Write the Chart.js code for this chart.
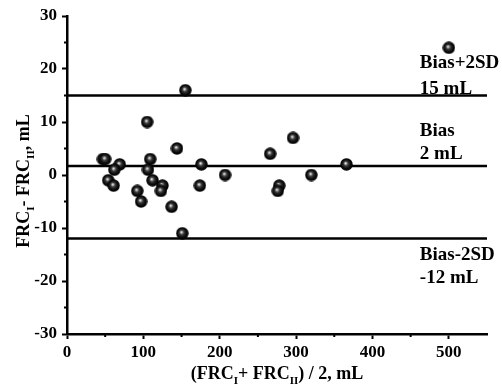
<!DOCTYPE html>
<html>
<head>
<meta charset="utf-8">
<script src="https://cdn.jsdelivr.net/npm/chart.js@4/dist/chart.umd.min.js"></script>
<style>
  html, body { margin: 0; padding: 0; background: #fff; }
  #wrap { width: 502px; height: 385px; }
</style>
</head>
<body>
<div id="wrap"><canvas id="chart" width="502" height="385"></canvas></div>
<script>
// mean of the two measurements (x) and their difference (y)
const meanFRC = [47, 50, 69, 62, 54, 61, 105, 109, 106, 112, 125, 123, 92, 97, 137, 144, 151, 176, 174, 155, 207, 266, 296, 278, 276, 320, 366, 500]
const diffFRC = [3, 3, 2, 1, -1, -2, 10, 3, 1, -1, -2, -3, -3, -5, -6, 5, -11, 2, -2, 16, 0, 4, 7, -2, -3, 0, 2, 24]

// limits of agreement
const limitNames = ['Bias+2SD', 'Bias', 'Bias-2SD']
const limitValues = [15, 1.7, -12]
const limitTexts = ['15 mL', '2 mL', '-12 mL']

const xTicks = [0, 100, 200, 300, 400, 500]
const yTicks = [-30, -20, -10, 0, 10, 20, 30]

const SERIF = '"Liberation Serif", "Times New Roman", serif'

// shaded ball used as point marker
function ball(d) {
  const c = document.createElement('canvas')
  c.width = c.height = d
  const g = c.getContext('2d')
  const r = d / 2
  const grad = g.createRadialGradient(r * 0.85, r * 0.8, 0, r, r, r)
  grad.addColorStop(0, '#ffffff')
  grad.addColorStop(0.12, '#c0c0c0')
  grad.addColorStop(0.35, '#3a3a3a')
  grad.addColorStop(0.7, '#0a0a0a')
  grad.addColorStop(1, '#000000')
  g.fillStyle = grad
  g.beginPath()
  g.arc(r, r, r - 0.3, 0, Math.PI * 2)
  g.fill()
  return c
}

// text with subscripts: parts = [[text, isSub], ...]
function drawParts(ctx, parts, x, y, align) {
  const big = 'bold 18px ' + SERIF
  const small = 'bold 11px ' + SERIF
  let w = 0
  parts.forEach(p => { ctx.font = p[1] ? small : big; w += ctx.measureText(p[0]).width })
  let cx = align === 'center' ? x - w / 2 : x
  ctx.textAlign = 'left'
  ctx.textBaseline = 'alphabetic'
  parts.forEach(p => {
    ctx.font = p[1] ? small : big
    ctx.fillText(p[0], cx, p[1] ? y + 5 : y)
    cx += ctx.measureText(p[0]).width
  })
}

const extras = {
  id: 'extras',
  afterDraw(chart) {
    const ctx = chart.ctx
    const xs = chart.scales.x, ys = chart.scales.y
    ctx.save()
    ctx.fillStyle = '#000'
    ctx.strokeStyle = '#000'
    // minor ticks
    ctx.lineWidth = 2
    for (let v = 50; v < 550; v += 100) {
      const px = xs.getPixelForValue(v)
      ctx.beginPath(); ctx.moveTo(px, ys.bottom); ctx.lineTo(px, ys.bottom + 3); ctx.stroke()
    }
    for (let v = -25; v < 30; v += 10) {
      const py = ys.getPixelForValue(v)
      ctx.beginPath(); ctx.moveTo(xs.left, py); ctx.lineTo(xs.left - 3, py); ctx.stroke()
    }
    // limit labels
    const labelX = xs.getPixelForValue(462)
    const nameY = [20.1, 7.4, -16.0]
    const valY = [15.3, 3.1, -20.4]
    ctx.font = 'bold 19px ' + SERIF
    ctx.textAlign = 'left'
    ctx.textBaseline = 'alphabetic'
    limitNames.forEach((n, i) => {
      ctx.fillText(n, labelX, ys.getPixelForValue(nameY[i]))
      ctx.fillText(limitTexts[i], labelX, ys.getPixelForValue(valY[i]))
    })
    // axis titles
    drawParts(ctx, [['(FRC', false], ['I', true], ['+ FRC', false], ['II', true], [') / 2, mL', false]],
      (xs.left + xs.right) / 2, 379, 'center')
    ctx.translate(29, 181)
    ctx.rotate(-Math.PI / 2)
    drawParts(ctx, [['FRC', false], ['I', true], ['- FRC', false], ['II', true], [', mL', false]], 0, 0, 'center')
    ctx.restore()
  }
}

const limitSets = limitValues.map(v => ({
  type: 'line',
  data: [{ x: 0, y: v }, { x: 550, y: v }],
  borderColor: '#000',
  borderWidth: 2.5,
  pointRadius: 0,
  order: 2
}))

const tickFont = { family: SERIF, size: 17, weight: 'bold' }

new Chart(document.getElementById('chart'), {
  type: 'scatter',
  data: {
    datasets: [
      {
        data: meanFRC.map((m, i) => ({ x: m, y: diffFRC[i] })),
        pointStyle: ball(13),
        pointRadius: 6.5,
        order: 1
      },
      ...limitSets
    ]
  },
  options: {
    responsive: false,
    animation: false,
    layout: { padding: { top: 16, right: 15, left: 0, bottom: 0 } },
    plugins: { legend: { display: false }, tooltip: { enabled: false } },
    scales: {
      x: {
        type: 'linear', min: 0, max: 550,
        afterBuildTicks: s => { s.ticks = xTicks.map(v => ({ value: v })) },
        ticks: { font: tickFont, color: '#000', padding: 3, maxRotation: 0 },
        grid: { drawOnChartArea: false, tickLength: 5, tickWidth: 2, tickColor: '#000' },
        border: { color: '#000', width: 2.5 },
        afterFit: s => { s.height = 51 }
      },
      y: {
        min: -30, max: 30,
        afterBuildTicks: s => { s.ticks = yTicks.map(v => ({ value: v })) },
        ticks: { font: tickFont, color: '#000', padding: 5 },
        grid: { drawOnChartArea: false, tickLength: 5, tickWidth: 2, tickColor: '#000' },
        border: { color: '#000', width: 2.5 },
        afterFit: s => { s.width = 67 }
      }
    }
  },
  plugins: [extras]
})
</script>
</body>
</html>
